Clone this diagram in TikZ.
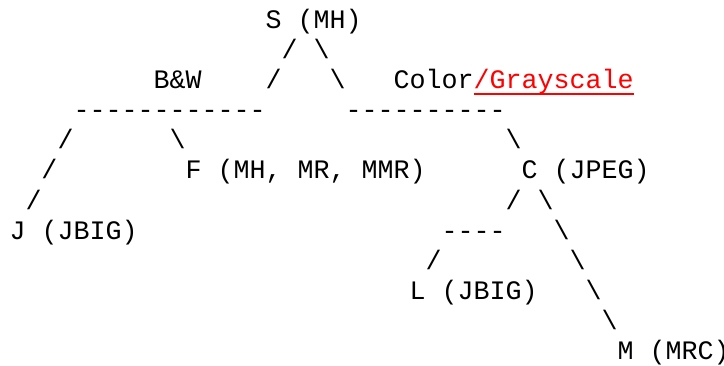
\documentclass[tikz,border=0pt]{standalone}
\usepackage{fontspec}
\setmonofont{Liberation Mono}
\definecolor{accent}{RGB}{255,0,0}
% place a token at a character cell: name, column, row, text
\newcommand\asciiat[4]{\node[ascii] (#1) at ({9.5+16*#2},{336-30*(#3-1)}) {#4};}
\begin{document}
\begin{tikzpicture}[x=1pt,y=1pt,
  ascii/.style={inner sep=0pt, outer sep=0pt, anchor=base west,
    font=\ttfamily\fontsize{26.67}{30}\selectfont, text=black}]
\useasboundingbox (0,0) rectangle (724,365);
% row 1
\asciiat{s}{16}{1}{S (MH)}
% row 2
\asciiat{r2a}{17}{2}{/}
\asciiat{r2b}{19}{2}{\textbackslash}
% row 3
\asciiat{bw}{9}{3}{B\&W}
\asciiat{r3a}{16}{3}{/}
\asciiat{r3b}{20}{3}{\textbackslash}
\asciiat{color}{24}{3}{Color}
\node[ascii, text=accent] (gray) at ({9.5+16*29},{336-30*2}) {/Grayscale};
\draw[accent, line width=1.7pt] ([yshift=-5pt]gray.base west) -- ([yshift=-5pt]gray.base east);
% row 4
\asciiat{bwbar}{4}{4}{------------}
\asciiat{colbar}{21}{4}{----------}
% row 5
\asciiat{r5a}{3}{5}{/}
\asciiat{r5b}{10}{5}{\textbackslash}
\asciiat{r5c}{31}{5}{\textbackslash}
% row 6
\asciiat{r6a}{2}{6}{/}
\asciiat{f}{11}{6}{F (MH, MR, MMR)}
\asciiat{c}{32}{6}{C (JPEG)}
% row 7
\asciiat{r7a}{1}{7}{/}
\asciiat{r7b}{31}{7}{/}
\asciiat{r7c}{33}{7}{\textbackslash}
% row 8
\asciiat{j}{0}{8}{J (JBIG)}
\asciiat{cbar}{27}{8}{----}
\asciiat{r8c}{34}{8}{\textbackslash}
% row 9
\asciiat{r9a}{26}{9}{/}
\asciiat{r9b}{35}{9}{\textbackslash}
% row 10
\asciiat{l}{25}{10}{L (JBIG)}
\asciiat{r10b}{36}{10}{\textbackslash}
% row 11
\asciiat{r11}{37}{11}{\textbackslash}
% row 12
\asciiat{m}{38}{12}{M (MRC)}
\end{tikzpicture}
\end{document}
